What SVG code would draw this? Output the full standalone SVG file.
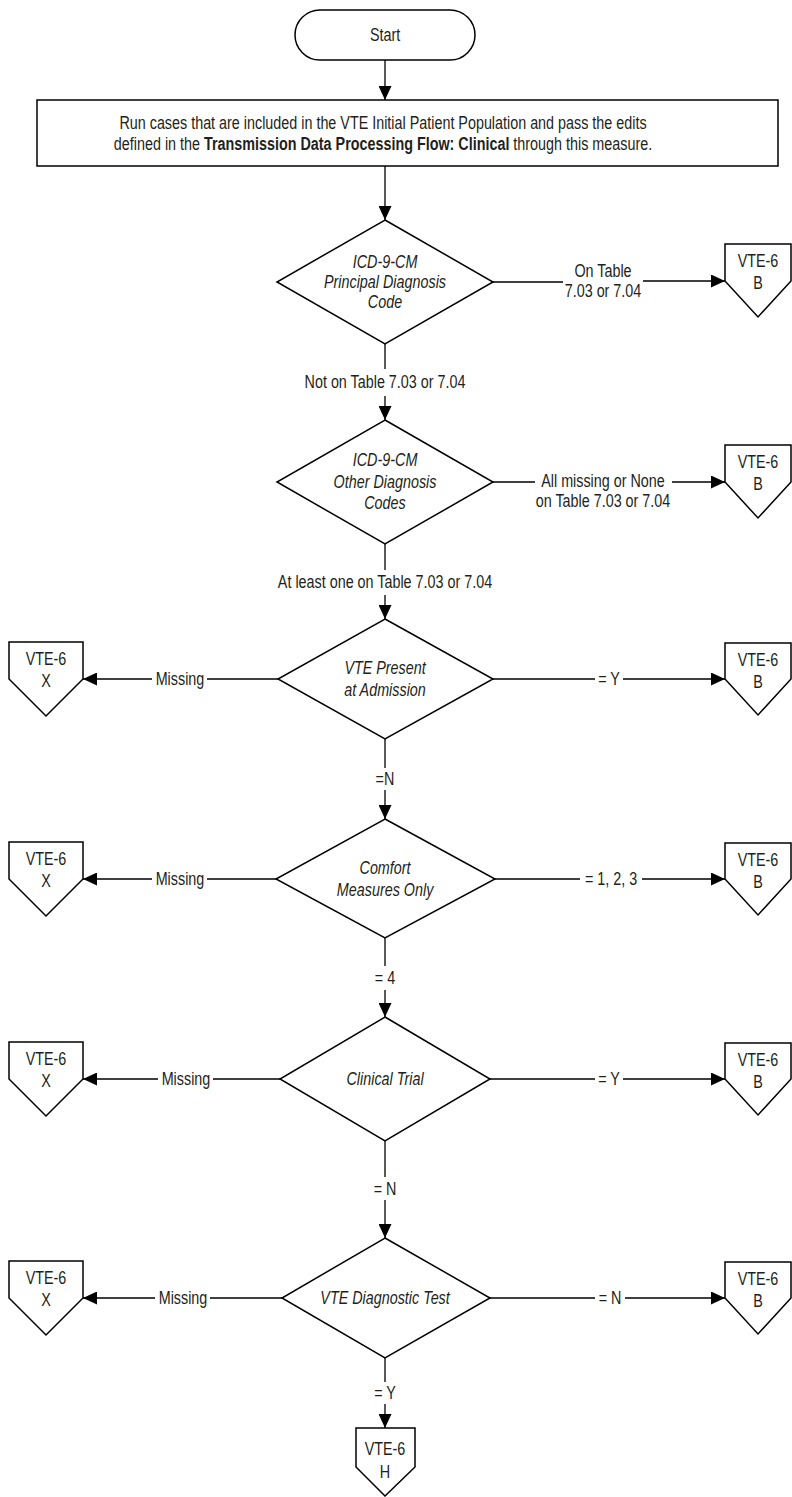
<svg xmlns="http://www.w3.org/2000/svg" width="792" height="1497" viewBox="0 0 792 1497">
<style>
.shape{fill:#fff;stroke:#000;stroke-width:1.5}
.ln{fill:none;stroke:#000;stroke-width:1.3}
text{font-family:"Liberation Sans Narrow","Arial Narrow","Liberation Sans",Arial,sans-serif;font-size:17.5px;fill:#231f20;text-anchor:middle;transform-box:fill-box;transform-origin:center;transform:scaleX(0.82)}
.it{font-style:italic}
.b{font-weight:bold}
</style>
<defs>
<marker id="ah" markerUnits="userSpaceOnUse" markerWidth="14" markerHeight="13" refX="14" refY="6.5" orient="auto">
<path d="M0,0 L14,6.5 L0,13 z" fill="#000"/>
</marker>
</defs>
<rect width="792" height="1497" fill="#fff"/>
<g id="connectors">
<path class="ln" d="M385,60 L385,100" marker-end="url(#ah)"/>
<path class="ln" d="M385,166 L385,220" marker-end="url(#ah)"/>
<path class="ln" d="M493,282 L563,282 M643,281 L725,281" marker-end="url(#ah)"/>
<path class="ln" d="M385,344 L385,369 M385,396 L385,420" marker-end="url(#ah)"/>
<path class="ln" d="M493,482 L535,482 M672,482 L725,482" marker-end="url(#ah)"/>
<path class="ln" d="M385,544 L385,570 M385,595 L385,619" marker-end="url(#ah)"/>
<path class="ln" d="M278,679 L207,679 M152,679 L83,679" marker-end="url(#ah)"/>
<path class="ln" d="M493,679 L595,679 M623,679 L725,679" marker-end="url(#ah)"/>
<path class="ln" d="M385,739 L385,768 M385,790 L385,819" marker-end="url(#ah)"/>
<path class="ln" d="M276,879 L207,879 M152,879 L83,879" marker-end="url(#ah)"/>
<path class="ln" d="M495,879 L580,879 M642,879 L725,879" marker-end="url(#ah)"/>
<path class="ln" d="M385,938 L385,966 M385,990 L385,1017" marker-end="url(#ah)"/>
<path class="ln" d="M280,1079 L213,1079 M158,1079 L83,1079" marker-end="url(#ah)"/>
<path class="ln" d="M490,1079 L595,1079 M623,1079 L725,1079" marker-end="url(#ah)"/>
<path class="ln" d="M385,1141 L385,1177 M385,1200 L385,1238" marker-end="url(#ah)"/>
<path class="ln" d="M282,1298 L210,1298 M155,1298 L83,1298" marker-end="url(#ah)"/>
<path class="ln" d="M490,1298 L595,1298 M625,1298 L725,1298" marker-end="url(#ah)"/>
<path class="ln" d="M385,1358 L385,1382 M385,1404 L385,1428" marker-end="url(#ah)"/>
</g>
<g id="labels">
<text x="603" y="277">On Table</text>
<text x="603" y="297">7.03 or 7.04</text>
<text x="385" y="388">Not on Table 7.03 or 7.04</text>
<text x="603" y="487">All missing or None</text>
<text x="603" y="507">on Table 7.03 or 7.04</text>
<text x="385" y="588">At least one on Table 7.03 or 7.04</text>
<text x="180" y="685">Missing</text>
<text x="609" y="685">= Y</text>
<text x="385" y="785">=N</text>
<text x="180" y="885">Missing</text>
<text x="611" y="885">= 1, 2, 3</text>
<text x="385" y="984">= 4</text>
<text x="186" y="1085">Missing</text>
<text x="609" y="1085">= Y</text>
<text x="385" y="1195">= N</text>
<text x="183" y="1304">Missing</text>
<text x="610" y="1304">= N</text>
<text x="385" y="1399">= Y</text>
</g>
<g id="start">
<rect class="shape" x="295" y="10" width="180" height="50" rx="25"/>
<text x="385" y="41">Start</text>
</g>
<g id="process">
<rect class="shape" x="37" y="100" width="741" height="66"/>
<text x="383" y="129">Run cases that are included in the VTE Initial Patient Population and pass the edits</text>
<text x="383" y="150">defined in the <tspan class="b">Transmission Data Processing Flow: Clinical</tspan> through this measure.</text>
</g>
<g id="d1">
<polygon class="shape" points="385,220 493,282 385,344 277,282"/>
<text class="it" x="385" y="268">ICD-9-CM</text>
<text class="it" x="385" y="288">Principal Diagnosis</text>
<text class="it" x="385" y="308">Code</text>
</g>
<g id="d2">
<polygon class="shape" points="385,420 493,482 385,544 277,482"/>
<text class="it" x="385" y="466">ICD-9-CM</text>
<text class="it" x="385" y="488">Other Diagnosis</text>
<text class="it" x="385" y="509">Codes</text>
</g>
<g id="d3">
<polygon class="shape" points="385,619 493,679 385,739 278,679"/>
<text class="it" x="385" y="674">VTE Present</text>
<text class="it" x="385" y="696">at Admission</text>
</g>
<g id="d4">
<polygon class="shape" points="385,819 495,879 385,938 276,879"/>
<text class="it" x="385" y="874">Comfort</text>
<text class="it" x="385" y="896">Measures Only</text>
</g>
<g id="d5">
<polygon class="shape" points="385,1017 490,1079 385,1141 280,1079"/>
<text class="it" x="385" y="1085">Clinical Trial</text>
</g>
<g id="d6">
<polygon class="shape" points="385,1238 490,1298 385,1358 282,1298"/>
<text class="it" x="385" y="1304">VTE Diagnostic Test</text>
</g>
<g id="b1"><polygon class="shape" points="725,244 791,244 791,281 758,317 725,281"/><text x="758" y="267">VTE-6</text><text x="758" y="289">B</text></g>
<g id="b2"><polygon class="shape" points="725,445 791,445 791,482 758,518 725,482"/><text x="758" y="468">VTE-6</text><text x="758" y="490">B</text></g>
<g id="b3"><polygon class="shape" points="725,643 791,643 791,679 758,715 725,679"/><text x="758" y="666">VTE-6</text><text x="758" y="688">B</text></g>
<g id="b4"><polygon class="shape" points="725,843 791,843 791,879 758,915 725,879"/><text x="758" y="866">VTE-6</text><text x="758" y="888">B</text></g>
<g id="b5"><polygon class="shape" points="725,1043 791,1043 791,1079 758,1115 725,1079"/><text x="758" y="1066">VTE-6</text><text x="758" y="1088">B</text></g>
<g id="b6"><polygon class="shape" points="725,1262 791,1262 791,1298 758,1334 725,1298"/><text x="758" y="1285">VTE-6</text><text x="758" y="1307">B</text></g>
<g id="x3"><polygon class="shape" points="9,642 83,642 83,679 46,716 9,679"/><text x="46" y="665">VTE-6</text><text x="46" y="687">X</text></g>
<g id="x4"><polygon class="shape" points="9,842 83,842 83,879 46,916 9,879"/><text x="46" y="865">VTE-6</text><text x="46" y="887">X</text></g>
<g id="x5"><polygon class="shape" points="9,1042 83,1042 83,1079 46,1116 9,1079"/><text x="46" y="1065">VTE-6</text><text x="46" y="1087">X</text></g>
<g id="x6"><polygon class="shape" points="9,1261 83,1261 83,1298 46,1335 9,1298"/><text x="46" y="1284">VTE-6</text><text x="46" y="1306">X</text></g>
<g id="h"><polygon class="shape" points="356,1428 415,1428 415,1467 385,1496 356,1467"/><text x="385" y="1455">VTE-6</text><text x="385" y="1478">H</text></g>
</svg>
